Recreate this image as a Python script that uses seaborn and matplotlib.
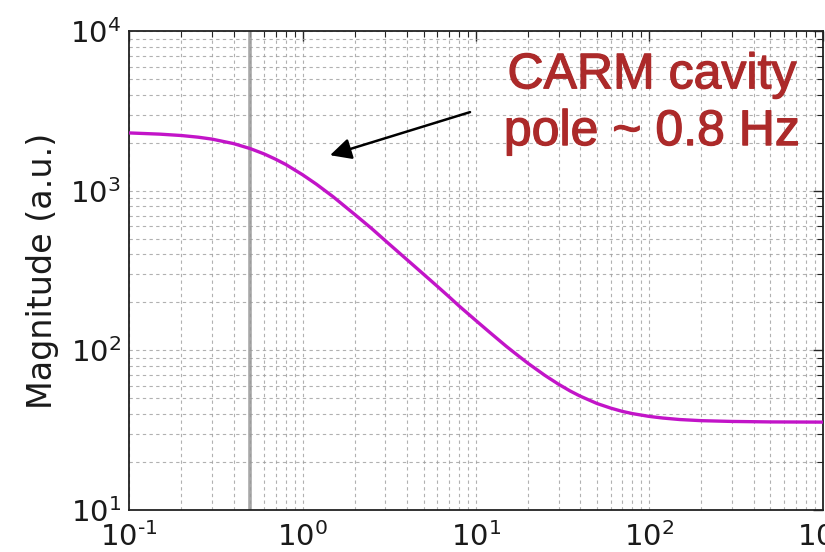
import matplotlib as mpl

mpl.use('Agg')
import matplotlib.pyplot as plt
import matplotlib.ticker as mticker
import matplotlib.patheffects as pe
import numpy as np
import pandas as pd
import seaborn as sns

#### Data ####
freq = [0.1, 0.15, 0.2, 0.25, 0.3, 0.4, 0.5, 0.6, 0.7, 0.8, 1.0, 1.2, 1.5,
        2.0, 2.5, 3.0, 4.0, 5.0, 6.0, 7.0, 8.0, 10.0, 12.0, 15.0, 17.0,
        20.0, 25.0, 30.0, 35.0, 40.0, 50.0, 60.0, 70.0, 80.0, 100.0, 120.0,
        150.0, 200.0, 300.0, 500.0, 1000.0]
magnitude = [2310, 2270, 2225, 2172, 2113, 1980, 1841, 1706, 1579, 1465,
             1263, 1103, 920, 712, 582, 488, 371, 300, 252, 217, 190, 154,
             130, 106, 95.2, 83, 69.8, 61.4, 55.7, 51.7, 46.5, 43.5, 41.5,
             40.2, 38.6, 37.7, 36.9, 36.3, 35.9, 35.65, 35.55]
marker_freq = 0.5
xlim = (0.1, 1000)
ylim = (10, 1e4)
note_text = 'CARM cavity\npole ~ 0.8 Hz'
note_tip = (1.44, 1675)
note_tail = (9.25, 3120)
########################

sns.set_style('white')
plt.rcParams['font.family'] = ['DejaVu Sans']
plt.rcParams['mathtext.default'] = 'regular'
plt.rcParams['axes.unicode_minus'] = False


def pow10(v, pos):
    e = int(round(np.log10(v)))
    if e < 0:
        return r'$10^{\text{-}%d}$' % abs(e)
    return r'$10^{%d}$' % e


df = pd.DataFrame({'freq': freq, 'magnitude': magnitude})

fig = plt.figure(figsize=(8.25, 5.52), dpi=100)
ax = fig.add_axes([0.1567, 0.0761, 0.8403, 0.867])

sns.lineplot(data=df, x='freq', y='magnitude', color='#c214c8', lw=2.4,
             ax=ax, zorder=3)
ax.axvline(marker_freq, color='0.6', lw=2.6, alpha=0.85, zorder=2)

ax.set_xscale('log')
ax.set_yscale('log')
ax.set_xlim(*xlim)
ax.set_ylim(*ylim)
ax.xaxis.set_major_formatter(mticker.FuncFormatter(pow10))
ax.yaxis.set_major_formatter(mticker.FuncFormatter(pow10))

# grid / ticks (classic look)
ax.grid(True, which='both', ls=(0, (3, 3)), color='0.62', lw=0.8, alpha=0.8)
ax.tick_params(which='both', direction='in', top=True, right=True)
ax.tick_params(which='major', length=7, width=1, labelsize=21,
               labelcolor='#1a1a1a')
ax.tick_params(axis='x', which='major', pad=9)
ax.tick_params(axis='y', which='major', pad=6)
ax.tick_params(which='minor', length=4, width=0.8)
for sp in ax.spines.values():
    sp.set_color('#222222')
    sp.set_linewidth(1.3)

ax.set_xlabel('')
ax.set_ylabel('Magnitude (a.u.)', fontsize=24, labelpad=8, color='#1a1a1a')

# annotation
ax.annotate('', xy=note_tip, xytext=note_tail,
            arrowprops=dict(arrowstyle='-|>', color='black', lw=1.8,
                            mutation_scale=32, shrinkA=0, shrinkB=0))
ax.text(0.754, 0.849, note_text, transform=ax.transAxes, ha='center',
        va='center', fontsize=36, color='#ac2a2a', linespacing=1.3,
        family=['Liberation Sans', 'DejaVu Sans'],
        path_effects=[pe.withStroke(linewidth=0.9, foreground='#ac2a2a')])

fig.savefig('out.png', dpi=100)
